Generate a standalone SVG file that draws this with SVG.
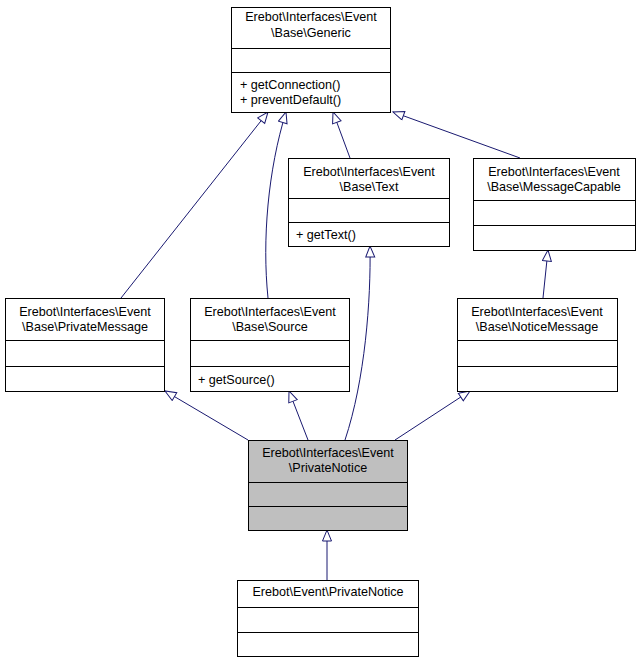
<svg xmlns="http://www.w3.org/2000/svg" width="641" height="663" viewBox="0 0 641 663">
<style>
.b{fill:#fff;stroke:#000;stroke-width:1}
.g{fill:#bfbfbf;stroke:#000;stroke-width:1}
text{font-family:"Liberation Sans",Arial,sans-serif;font-size:12.6px;fill:#000}
.c{text-anchor:middle}
.e{fill:none;stroke:#191970;stroke-width:1}
</style>
<defs>
<marker id="a" markerUnits="userSpaceOnUse" markerWidth="14" markerHeight="12" refX="12" refY="5" orient="auto">
<path d="M1,0.5 L12,5 L1,9.5 Z" fill="#fff" stroke="#191970"/>
</marker>
</defs>
<rect width="641" height="663" fill="#fff"/>
<g id="connectors">
<path class="e" marker-end="url(#a)" d="M121,298 L268,112"/>
<path class="e" marker-end="url(#a)" d="M268,298 C262,240 268,170 286,112"/>
<path class="e" marker-end="url(#a)" d="M350,158 L333,112"/>
<path class="e" marker-end="url(#a)" d="M520,158 L393,112"/>
<path class="e" marker-end="url(#a)" d="M543,298 L548,250"/>
<path class="e" marker-end="url(#a)" d="M248,440 L165,391"/>
<path class="e" marker-end="url(#a)" d="M308,440 L289,391"/>
<path class="e" marker-end="url(#a)" d="M345,440 C365,380 371,300 370,246"/>
<path class="e" marker-end="url(#a)" d="M395,440 L470,391"/>
<path class="e" marker-end="url(#a)" d="M327,580 L327,530"/>
</g>
<g id="generic">
<rect class="b" x="231.5" y="7.5" width="159" height="105"/>
<text class="c" x="311" y="21">Erebot\Interfaces\Event</text>
<text class="c" x="311" y="37">\Base\Generic</text>
<path class="b" d="M231.5,48.5H390.5M231.5,72.5H390.5"/>
<text x="240" y="89">+ getConnection()</text>
<text x="240" y="104">+ preventDefault()</text>
</g>
<g id="text">
<rect class="b" x="288.5" y="158.5" width="161" height="88"/>
<text class="c" x="369" y="176">Erebot\Interfaces\Event</text>
<text class="c" x="369" y="191">\Base\Text</text>
<path class="b" d="M288.5,198.5H449.5M288.5,222.5H449.5"/>
<text x="296" y="239">+ getText()</text>
</g>
<g id="messagecapable">
<rect class="b" x="473.5" y="158.5" width="162" height="92"/>
<text class="c" x="554" y="176">Erebot\Interfaces\Event</text>
<text class="c" x="554" y="191">\Base\MessageCapable</text>
<path class="b" d="M473.5,200.5H635.5M473.5,225.5H635.5"/>
</g>
<g id="privatemessage">
<rect class="b" x="5.5" y="298.5" width="159" height="93"/>
<text class="c" x="85" y="316">Erebot\Interfaces\Event</text>
<text class="c" x="85" y="331">\Base\PrivateMessage</text>
<path class="b" d="M5.5,340.5H164.5M5.5,366.5H164.5"/>
</g>
<g id="source">
<rect class="b" x="190.5" y="298.5" width="159" height="93"/>
<text class="c" x="270" y="316">Erebot\Interfaces\Event</text>
<text class="c" x="270" y="331">\Base\Source</text>
<path class="b" d="M190.5,340.5H349.5M190.5,366.5H349.5"/>
<text x="198" y="384">+ getSource()</text>
</g>
<g id="noticemessage">
<rect class="b" x="457.5" y="298.5" width="160" height="93"/>
<text class="c" x="537" y="316">Erebot\Interfaces\Event</text>
<text class="c" x="537" y="331">\Base\NoticeMessage</text>
<path class="b" d="M457.5,340.5H617.5M457.5,366.5H617.5"/>
</g>
<g id="privatenotice">
<rect class="g" x="248.5" y="440.5" width="159" height="90"/>
<text class="c" x="328" y="457">Erebot\Interfaces\Event</text>
<text class="c" x="328" y="472">\PrivateNotice</text>
<path class="b" d="M248.5,482.5H407.5M248.5,506.5H407.5"/>
</g>
<g id="eventprivatenotice">
<rect class="b" x="237.5" y="580.5" width="181" height="76"/>
<text class="c" x="328" y="596">Erebot\Event\PrivateNotice</text>
<path class="b" d="M237.5,607.5H418.5M237.5,632.5H418.5"/>
</g>
</svg>
